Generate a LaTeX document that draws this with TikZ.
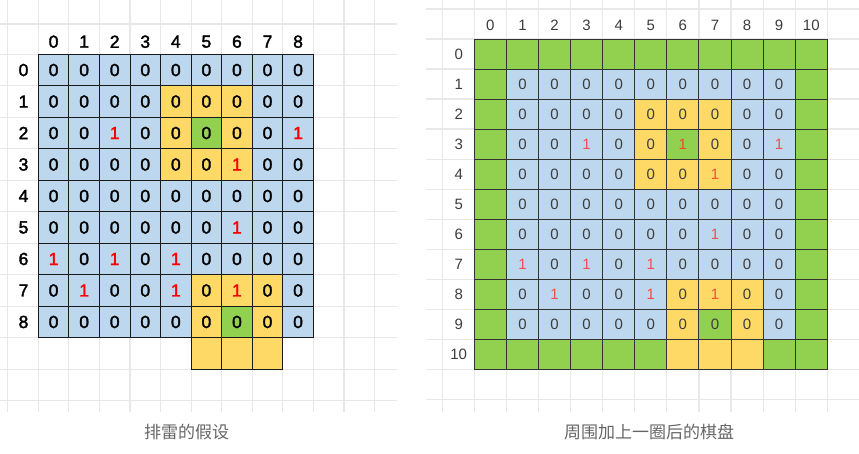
\documentclass[tikz,border=0pt]{standalone}
\usepackage{fontspec}
\setmainfont{Liberation Sans}
\newfontfamily\semib[FakeBold=2]{Liberation Sans}
\newfontfamily\cjk{Noto Sans CJK SC}
\definecolor{fb}{HTML}{BDD7EE}
\definecolor{fy}{HTML}{FFD966}
\definecolor{fg}{HTML}{92D050}
\definecolor{bgline}{HTML}{E8E8E8}
\definecolor{capgray}{HTML}{666666}
\definecolor{rt0}{HTML}{3C3C3C}
\definecolor{rt1}{HTML}{FF2A2A}
\tikzset{
 bgl/.style={draw=bgline, line width=1.2pt},
 lcell/.style={draw=black!90, line width=0.9pt, minimum width=30.56pt, minimum height=31.49pt, inner sep=0pt, font=\semib\fontsize{17.5}{17.5}\selectfont},
 lv0/.style={text=black}, lv1/.style={text=red}, lv/.style={},
 lhead/.style={font=\semib\fontsize{17.5}{17.5}\selectfont, inner sep=0pt},
 rcell/.style={draw=black!80, line width=0.9pt, minimum width=32.09pt, minimum height=30.03pt, inner sep=0pt, font=\fontsize{15}{15}\selectfont},
 rv0/.style={text=rt0}, rv1/.style={text=rt1, text opacity=0.8}, rv/.style={},
 rhead/.style={font=\fontsize{15}{15}\selectfont, text=rt0, inner sep=0pt},
 captionstyle/.style={font=\cjk\fontsize{17}{17}\selectfont, text=capgray, inner sep=0pt}
}
\begin{document}
\begin{tikzpicture}[x=1pt,y=-1pt]
\useasboundingbox (0,0) rectangle (859,454);
% background grids
\foreach \k in {-1,...,11} \draw[bgl] ({38.3+30.56*\k},0) -- ({38.3+30.56*\k},411.7);
\draw[bgl] (0,24) -- (396.7,24);
\foreach \k in {0,...,11} \draw[bgl] (0,{54.3+31.49*\k}) -- (396.7,{54.3+31.49*\k});
\foreach \k in {-1,...,11} \draw[bgl] ({474.3+32.09*\k},0) -- ({474.3+32.09*\k},411.7);
\foreach \k in {-1,...,12} \draw[bgl] (426,{39+30.03*\k}) -- (859,{39+30.03*\k});
% left board
\foreach \r/\row in {
 0/{0/b,0/b,0/b,0/b,0/b,0/b,0/b,0/b,0/b},
 1/{0/b,0/b,0/b,0/b,0/y,0/y,0/y,0/b,0/b},
 2/{0/b,0/b,1/b,0/b,0/y,0/g,0/y,0/b,1/b},
 3/{0/b,0/b,0/b,0/b,0/y,0/y,1/y,0/b,0/b},
 4/{0/b,0/b,0/b,0/b,0/b,0/b,0/b,0/b,0/b},
 5/{0/b,0/b,0/b,0/b,0/b,0/b,1/b,0/b,0/b},
 6/{1/b,0/b,1/b,0/b,1/b,0/b,0/b,0/b,0/b},
 7/{0/b,1/b,0/b,0/b,1/b,0/y,1/y,0/y,0/b},
 8/{0/b,0/b,0/b,0/b,0/b,0/y,0/g,0/y,0/b}} {
  \foreach \v/\f [count=\c from 0] in \row {
    \node[lcell, fill=f\f, lv\v] (L-\r-\c) at ({38.3+30.56*(\c+0.5)},{54.3+31.49*(\r+0.5)}) {\v};
  }
}
\foreach \c in {5,6,7}
  \node[lcell, fill=fy] (L-9-\c) at ({38.3+30.56*(\c+0.5)},{54.3+31.49*9.5}) {};
\foreach \c in {0,...,8}
  \node[lhead] (LH-\c) at ({38.3+30.56*(\c+0.5)},41.7) {\c};
\foreach \r in {0,...,8}
  \node[lhead] (LR-\r) at (23.5,{54.3+31.49*(\r+0.5)}) {\r};
% right board
\foreach \r/\row in {
 0/{{}/g,{}/g,{}/g,{}/g,{}/g,{}/g,{}/g,{}/g,{}/g,{}/g,{}/g},
 1/{{}/g,0/b,0/b,0/b,0/b,0/b,0/b,0/b,0/b,0/b,{}/g},
 2/{{}/g,0/b,0/b,0/b,0/b,0/y,0/y,0/y,0/b,0/b,{}/g},
 3/{{}/g,0/b,0/b,1/b,0/b,0/y,1/g,0/y,0/b,1/b,{}/g},
 4/{{}/g,0/b,0/b,0/b,0/b,0/y,0/y,1/y,0/b,0/b,{}/g},
 5/{{}/g,0/b,0/b,0/b,0/b,0/b,0/b,0/b,0/b,0/b,{}/g},
 6/{{}/g,0/b,0/b,0/b,0/b,0/b,0/b,1/b,0/b,0/b,{}/g},
 7/{{}/g,1/b,0/b,1/b,0/b,1/b,0/b,0/b,0/b,0/b,{}/g},
 8/{{}/g,0/b,1/b,0/b,0/b,1/b,0/y,1/y,0/y,0/b,{}/g},
 9/{{}/g,0/b,0/b,0/b,0/b,0/b,0/y,0/g,0/y,0/b,{}/g},
 10/{{}/g,{}/g,{}/g,{}/g,{}/g,{}/g,{}/y,{}/y,{}/y,{}/g,{}/g}} {
  \foreach \v/\f [count=\c from 0] in \row {
    \node[rcell, fill=f\f, rv\v] (R-\r-\c) at ({474.3+32.09*(\c+0.5)},{39+30.03*(\r+0.5)}) {\v};
  }
}
\foreach \c in {0,...,10}
  \node[rhead] (RH-\c) at ({474.3+32.09*(\c+0.5)},25.5) {\c};
\foreach \r in {0,...,10}
  \node[rhead] (RR-\r) at (458.7,{39+30.03*(\r+0.5)}) {\r};
% captions
\node[captionstyle] (cap1) at (186.7,431.7) {排雷的假设};
\node[captionstyle] (cap2) at (649,431.7) {周围加上一圈后的棋盘};
\end{tikzpicture}
\end{document}
